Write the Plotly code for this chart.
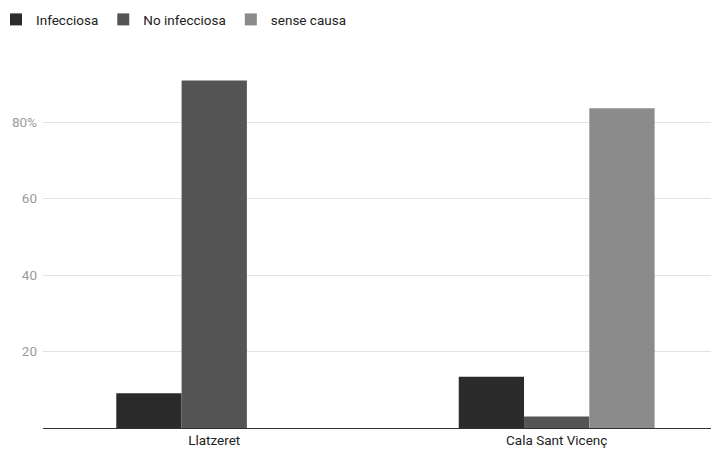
import plotly.graph_objects as go

categories = ["Llatzeret", "Cala Sant Vicenç"]
infecciosa = [9.1, 13.4]
no_infecciosa = [90.9, 3.0]
sense_causa = [0, 83.6]
y_tick_vals = [20, 40, 60, 80]
y_tick_text = ["20", "40", "60", "80%"]

colors = ["#2b2b2b", "#555555", "#8b8b8b"]

fig = go.Figure()
for name, vals, col in [("Infecciosa", infecciosa, colors[0]),
                        ("No infecciosa", no_infecciosa, colors[1]),
                        ("sense causa", sense_causa, colors[2])]:
    fig.add_trace(go.Bar(name=name, x=categories, y=vals,
                         marker=dict(color=col, line=dict(width=0)),
                         hoverinfo="skip"))

# page has an 8px body margin, so margins compensate
fig.update_layout(
    width=719, height=450,
    margin=dict(l=35, r=8, t=56, b=30, autoexpand=False),
    paper_bgcolor="white", plot_bgcolor="white",
    font=dict(family="Roboto", size=13, color="#222222"),
    barmode="group", bargap=0.428, bargroupgap=0,
    showlegend=True,
    legend=dict(orientation="h", x=-0.0695, xref="paper", xanchor="left",
                y=1.1645, yref="paper", yanchor="top",
                font=dict(family="Roboto", size=13.5, color="#222222"),
                itemwidth=30, tracegroupgap=0, bgcolor="rgba(0,0,0,0)"),
    xaxis=dict(range=[-0.5, 1.474], showgrid=False, showline=True,
               linecolor="#333333", linewidth=1.2, ticks="",
               tickfont=dict(family="Roboto", size=13.5, color="#222222"),
               fixedrange=True),
    yaxis=dict(range=[0, 95.2], tickvals=y_tick_vals, ticktext=y_tick_text,
               showgrid=True, gridcolor="#e2e2e2", gridwidth=1,
               zeroline=False, showline=False, ticks="",
               ticklabelstandoff=5,
               tickfont=dict(family="Roboto", size=13.5, color="#9a9a9a"),
               fixedrange=True),
)

fig.write_html("out.html")
